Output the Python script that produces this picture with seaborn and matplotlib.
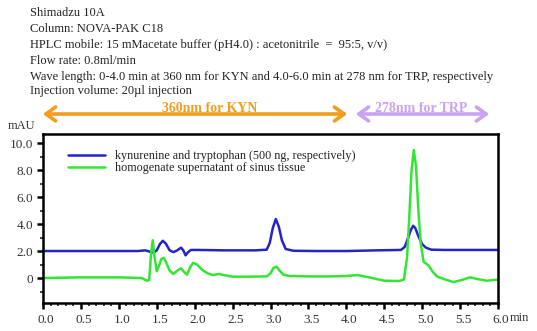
import numpy as np
import pandas as pd
import matplotlib
matplotlib.use("Agg")
import matplotlib.pyplot as plt
import matplotlib.transforms as mtransforms
import seaborn as sns
from matplotlib.ticker import MultipleLocator, FixedLocator

# ---------------- data ----------------
header_lines = [
    "Shimadzu 10A",
    "Column: NOVA-PAK C18",
    "HPLC mobile: 15 mMacetate buffer (pH4.0) : acetonitrile  =  95:5, v/v)",
    "Flow rate: 0.8ml/min",
    "Wave length: 0-4.0 min at 360 nm for KYN and 4.0-6.0 min at 278 nm for TRP, respectively",
    "Injection volume: 20\u00b5l injection",
]
series_names = [
    "kynurenine and tryptophan (500 ng, respectively)",
    "homogenate supernatant of sinus tissue",
]

blue_t = [0.0, 0.5, 1.0, 1.25, 1.35, 1.41, 1.46, 1.50, 1.54, 1.58, 1.62, 1.67, 1.72, 1.77,
          1.82, 1.85, 1.88, 1.91, 1.95, 2.05, 2.4, 2.8, 2.95, 2.99, 3.03, 3.07, 3.11,
          3.15, 3.2, 3.3, 3.6, 4.0, 4.4, 4.72, 4.77, 4.81, 4.85, 4.88, 4.91, 4.95,
          5.0, 5.05, 5.12, 5.3, 5.6, 6.0]
blue_y = [2.0, 2.0, 2.0, 2.0, 2.05, 1.95, 1.88, 2.05, 2.5, 2.76, 2.55, 2.05, 1.92, 2.05,
          2.25, 2.05, 1.68, 1.9, 2.08, 2.08, 2.05, 2.05, 2.1, 2.6, 3.7, 4.37, 3.8,
          2.8, 2.15, 2.02, 2.0, 2.0, 2.05, 2.08, 2.3, 2.9, 3.55, 3.87, 3.7, 3.1,
          2.5, 2.25, 2.1, 2.08, 2.08, 2.08]

green_t = [0.0, 0.5, 1.0, 1.3, 1.37, 1.40, 1.425, 1.447, 1.47, 1.50, 1.53, 1.56, 1.59,
           1.62, 1.67, 1.72, 1.77, 1.82, 1.86, 1.90, 1.94, 1.98, 2.03, 2.1, 2.17,
           2.24, 2.32, 2.4, 2.5, 2.7, 2.95, 3.0, 3.04, 3.08, 3.12, 3.17, 3.25, 3.5,
           3.8, 4.0, 4.15, 4.3, 4.5, 4.7, 4.76, 4.80, 4.83, 4.86, 4.89, 4.92, 4.95,
           4.98, 5.02, 5.08, 5.14, 5.2, 5.3, 5.41, 5.52, 5.63, 5.75, 5.85, 6.0]
green_y = [0.0, 0.05, 0.05, 0.0, -0.2, -0.15, 1.8, 2.8, 1.6, 0.5, 0.9, 1.4, 1.5,
           1.2, 0.55, 0.3, 0.55, 0.72, 0.45, 0.25, 0.8, 1.13, 1.0, 0.6, 0.35,
           0.22, 0.3, 0.2, 0.1, 0.1, 0.12, 0.35, 0.75, 0.84, 0.55, 0.25, 0.15, 0.12,
           0.12, 0.15, 0.22, 0.05, -0.2, -0.22, -0.1, 1.5, 4.5, 8.0, 9.48, 8.2, 5.0,
           2.6, 1.2, 0.95, 0.45, 0.1, -0.1, -0.3, -0.15, 0.05, -0.1, -0.2, -0.12]

# ---------------- style ----------------
sns.set_theme(style="ticks")
SERIF = ["Liberation Serif", "DejaVu Serif"]
plt.rcParams["font.family"] = SERIF

W, H, DPI = 537, 331, 100
fig = plt.figure(figsize=(W / DPI, H / DPI), dpi=DPI)
fig.patch.set_facecolor("white")

def fx(px):
    return px / W

def fy(py):
    return 1 - py / H

ax_l, ax_r, ax_t, ax_b = 43, 498, 134, 303
ax = fig.add_axes([fx(ax_l), fy(ax_b), fx(ax_r - ax_l), (ax_b - ax_t) / H])

df = pd.concat([
    pd.DataFrame({"time": blue_t, "mAU": blue_y, "sample": series_names[0]}),
    pd.DataFrame({"time": green_t, "mAU": green_y, "sample": series_names[1]}),
])
palette = {series_names[0]: "#2424c8", series_names[1]: "#33e633"}
sns.lineplot(data=df, x="time", y="mAU", hue="sample", palette=palette,
             linewidth=1.8, ax=ax, sort=False, estimator=None)

ax.set_xlim(0, 6.0)
ax.set_ylim(-1.85, 10.67)
ax.set_xlabel("")
ax.set_ylabel("")

xt = [0.0, 0.5, 1.0, 1.5, 2.0, 2.5, 3.0, 3.5, 4.0, 4.5, 5.0, 5.5, 6.0]
ax.xaxis.set_major_locator(FixedLocator(xt))
ax.set_xticklabels([f"{v:.1f}" for v in xt])
ax.xaxis.set_minor_locator(MultipleLocator(0.1))
yt = [0, 2, 4, 6, 8, 10]
ax.yaxis.set_major_locator(FixedLocator(yt))
ax.set_yticklabels(["0", "2.0", "4.0", "6.0", "8.0", "10.0"])
ax.yaxis.set_minor_locator(MultipleLocator(1.0))

for s in ax.spines.values():
    s.set_linewidth(1.8)
    s.set_color("black")
ax.tick_params(axis="x", which="major", direction="out", length=4, width=1.8,
               labelsize=9.5, pad=4, colors="black")
ax.tick_params(axis="y", which="major", direction="out", length=4, width=1.8,
               labelsize=9.5, pad=3, colors="black")
ax.tick_params(axis="both", which="minor", direction="out", length=2.5, width=1.2)
shift = mtransforms.ScaledTranslation(3 / DPI, 0, fig.dpi_scale_trans)
for lab in ax.get_xticklabels():
    lab.set_transform(lab.get_transform() + shift)
for lab in ax.get_xticklabels() + ax.get_yticklabels():
    lab.set_color("#333333")

leg = ax.legend(loc="upper left", bbox_to_anchor=(0.045, 0.935), frameon=False,
                fontsize=8.7, handlelength=3.0, handletextpad=0.9,
                labelspacing=0.0, borderaxespad=0)
for t in leg.get_texts():
    t.set_color("#222222")

# header text
ys = [13, 29, 45, 61, 77, 91]
for line, y in zip(header_lines, ys):
    fig.text(fx(30), fy(y), line, fontsize=9.0, va="center", ha="left",
             color="#222222")

fig.text(fx(8), fy(126), "mAU", fontsize=9.0, va="center", ha="left", color="#333333")
fig.text(fx(510), fy(318), "min", fontsize=9.0, va="center", ha="left", color="#333333")

# wavelength arrows
ay = 114
fig.add_artist(matplotlib.patches.FancyArrowPatch(
    (fx(40), fy(ay)), (fx(350), fy(ay)), transform=fig.transFigure,
    arrowstyle="<->,head_length=7,head_width=5", color="#f39c1f", lw=2.6,
    mutation_scale=1))
fig.add_artist(matplotlib.patches.FancyArrowPatch(
    (fx(353), fy(ay)), (fx(492), fy(ay)), transform=fig.transFigure,
    arrowstyle="<->,head_length=7,head_width=5", color="#c9a2f2", lw=2.6,
    mutation_scale=1))
fig.text(fx(210), fy(ay - 2), "360nm for KYN", fontsize=10, fontweight="bold",
         ha="center", va="baseline", color="#f39c1f")
fig.text(fx(421), fy(ay - 2), "278nm for TRP", fontsize=10, fontweight="bold",
         ha="center", va="baseline", color="#c9a2f2")

fig.savefig("out.png", dpi=DPI, facecolor="white")
